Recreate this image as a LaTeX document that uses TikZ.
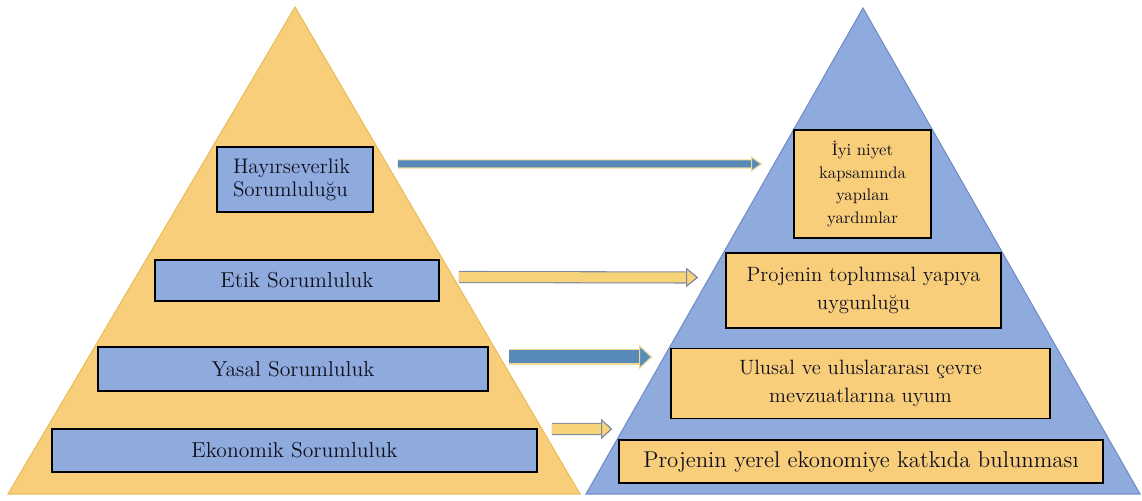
\documentclass[tikz,border=0pt]{standalone}
\usetikzlibrary{arrows.meta}

\definecolor{pyrorange}{RGB}{249,206,122}
\definecolor{pyrorangeline}{RGB}{232,190,90}
\definecolor{pyrblue}{RGB}{143,170,220}
\definecolor{pyrblueline}{RGB}{110,140,200}
\definecolor{arrblue}{RGB}{88,138,185}
\definecolor{arrblueout}{RGB}{236,218,150}
\definecolor{arryellow}{RGB}{247,212,122}
\definecolor{arryellowout}{RGB}{125,138,160}
\definecolor{boxtext}{RGB}{15,15,30}

\begin{document}
\begin{tikzpicture}[
    lbox/.style={draw=black, line width=1pt, fill=pyrblue, inner sep=0pt,
      text=boxtext, align=center, font=\fontsize{12.3}{16}\selectfont},
    rbox/.style={lbox, fill=pyrorange, font=\fontsize{11.8}{16}\selectfont},
    bluearrow/.style={draw=arrblue, line width=#1,
      preaction={draw=arrblueout, line width=#1+1.2pt}},
    yellowarrow/.style={draw=arryellow, line width=#1,
      preaction={draw=arryellowout, line width=#1+1.2pt}},
  ]
  \useasboundingbox (0,0) rectangle (22.84,10.02);

  % the two pyramids
  \draw[draw=pyrorangeline, fill=pyrorange, line width=0.6pt]
  (0.16,0.14) -- (5.90,9.88) -- (11.60,0.14) -- cycle;
  \draw[draw=pyrblueline, fill=pyrblue, line width=0.6pt]
  (11.72,0.14) -- (17.26,9.86) -- (22.80,0.14) -- cycle;

  % left pyramid
  \node[lbox, minimum width=3.12cm, minimum height=1.30cm, text width=2.48cm,
    align=left, font=\fontsize{12}{13}\selectfont]
  (hay) at (5.90,6.43) {Hayırseverlik\\Sorumluluğu};
  \node[lbox, minimum width=5.68cm, minimum height=0.82cm]
  (etik) at (5.94,4.41) {Etik Sorumluluk};
  \node[lbox, minimum width=7.80cm, minimum height=0.88cm]
  (yasal) at (5.86,2.64) {Yasal Sorumluluk};
  \node[lbox, minimum width=9.70cm, minimum height=0.86cm]
  (eko) at (5.89,1.01) {Ekonomik Sorumluluk};

  % right pyramid
  \node[rbox, minimum width=2.74cm, minimum height=2.16cm, text width=2.6cm,
    font=\fontsize{9.5}{13}\selectfont]
  (iyi) at (17.25,6.34) {İyi niyet\\kapsamında\\yapılan\\yardımlar};
  \node[rbox, minimum width=5.50cm, minimum height=1.50cm]
  (toplum) at (17.27,4.21) {Projenin toplumsal yapıya\\uygunluğu};
  \node[rbox, minimum width=7.58cm, minimum height=1.40cm]
  (ulusal) at (17.21,2.35) {Ulusal ve uluslararası çevre\\mevzuatlarına uyum};
  \node[rbox, minimum width=9.68cm, minimum height=0.86cm, font=\fontsize{13}{16}\selectfont]
  (yerel) at (17.22,0.79) {Projenin yerel ekonomiye katkıda bulunması};

  % arrows between the levels
  \draw[bluearrow=0.14cm,
    -{Triangle[width=0.3cm, length=0.22cm, fill=arrblue, color=arrblueout, line width=0.6pt]}]
  ([shift={(0.48,0.31)}]hay.east) -- ([shift={(-0.62,0.40)}]iyi.west);
  \draw[yellowarrow=0.2cm,
    -{Triangle[width=0.38cm, length=0.24cm, fill=arryellow, color=arryellowout, line width=0.6pt]}]
  ([shift={(0.38,0.07)}]etik.east) -- ([shift={(-0.54,0.26)}]toplum.west);
  \draw[bluearrow=0.26cm,
    -{Triangle[width=0.48cm, length=0.26cm, fill=arrblue, color=arrblueout, line width=0.6pt]}]
  ([shift={(0.40,0.24)}]yasal.east) -- ([shift={(-0.36,0.53)}]ulusal.west);
  \draw[yellowarrow=0.2cm,
    -{Triangle[width=0.4cm, length=0.22cm, fill=arryellow, color=arryellowout, line width=0.6pt]}]
  ([shift={(0.28,0.43)}]eko.east) -- ([shift={(-0.12,0.65)}]yerel.west);
\end{tikzpicture}
\end{document}
